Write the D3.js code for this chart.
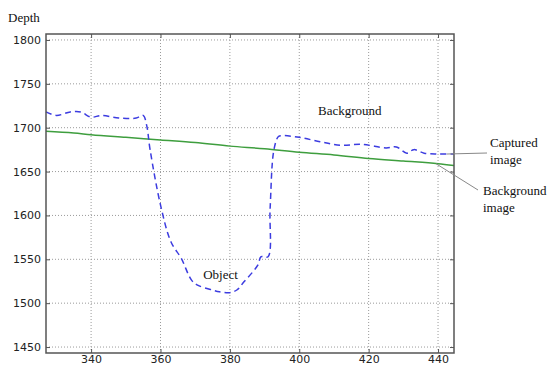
<!DOCTYPE html>
<html>
<head>
<meta charset="utf-8">
<script src="https://cdn.jsdelivr.net/npm/d3@7"></script>
<style>
  body { margin: 0; background: #fff; }
  svg { display: block; }
</style>
</head>
<body>
<div id="chart"></div>
<script>
// values
const capturedX = [327, 330, 334, 337, 340, 343, 348, 353, 355, 356, 357, 360, 363, 366, 369, 371, 375, 377, 380, 382, 384, 388, 389, 391, 391.6, 392.7, 394, 395, 400, 406, 412, 418, 425, 428, 431, 433, 436, 440, 444.6];
const capturedY = [1718, 1714, 1718, 1718, 1712, 1714, 1711, 1711, 1714, 1703, 1675, 1612, 1570, 1551, 1526, 1520, 1515, 1513, 1512, 1515, 1524, 1543, 1553, 1553, 1608, 1675, 1690, 1691, 1689, 1684, 1680, 1681, 1677, 1678, 1671, 1675, 1671, 1670, 1670];
const backgroundX = [327, 335, 340, 350, 360, 370, 380, 390, 400, 410, 420, 430, 440, 444.6];
const backgroundY = [1696, 1694, 1692, 1689, 1686, 1683, 1679, 1676, 1672, 1669, 1665, 1662, 1659, 1657];
const xTicks = [340, 360, 380, 400, 420, 440];
const yTicks = [1450, 1500, 1550, 1600, 1650, 1700, 1750, 1800];

const width = 548, height = 367;
const margin = { top: 34, right: 94, bottom: 14, left: 46 };
const plotW = width - margin.left - margin.right;
const plotH = height - margin.top - margin.bottom;

const svg = d3.select('#chart').append('svg')
  .attr('width', width)
  .attr('height', height);

const x = d3.scaleLinear().domain([327, 444.6]).range([0, plotW]);
const y = d3.scaleLinear().domain([1443.2, 1806.8]).range([plotH, 0]);

const g = svg.append('g').attr('transform', `translate(${margin.left},${margin.top})`);

// grid
g.append('g').selectAll('line').data(yTicks).join('line')
  .attr('x1', 0).attr('x2', plotW)
  .attr('y1', d => y(d)).attr('y2', d => y(d))
  .attr('stroke', '#9a9a9a').attr('stroke-width', 1)
  .attr('stroke-dasharray', '1,2');
g.append('g').selectAll('line').data(xTicks).join('line')
  .attr('x1', d => x(d)).attr('x2', d => x(d))
  .attr('y1', 0).attr('y2', plotH)
  .attr('stroke', '#9a9a9a').attr('stroke-width', 1)
  .attr('stroke-dasharray', '1,2');

const pts = (xs, ys) => xs.map((v, i) => [v, ys[i]]);
const line = d3.line().x(d => x(d[0])).y(d => y(d[1])).curve(d3.curveMonotoneX);

g.append('path')
  .datum(pts(backgroundX, backgroundY))
  .attr('fill', 'none')
  .attr('stroke', '#3e9e3e')
  .attr('stroke-width', 1.5)
  .attr('d', line);

g.append('path')
  .datum(pts(capturedX, capturedY))
  .attr('fill', 'none')
  .attr('stroke', '#3c3ce0')
  .attr('stroke-width', 1.5)
  .attr('stroke-dasharray', '6,4')
  .attr('d', d3.line().x(d => x(d[0])).y(d => y(d[1])).curve(d3.curveCatmullRom.alpha(0.5)));

// axes with inward ticks
const tickLen = 4;
g.append('g')
  .attr('transform', `translate(0,${plotH})`)
  .call(d3.axisBottom(x).tickValues(xTicks).tickSize(-tickLen).tickPadding(2).tickFormat(d3.format('d')));
g.append('g')
  .call(d3.axisLeft(y).tickValues(yTicks).tickSize(-tickLen).tickPadding(5).tickFormat(d3.format('d')));
g.append('g')
  .call(d3.axisTop(x).tickValues(xTicks).tickSize(-tickLen).tickFormat(''));
g.append('g')
  .attr('transform', `translate(${plotW},0)`)
  .call(d3.axisRight(y).tickValues(yTicks).tickSize(-tickLen).tickFormat(''));

g.selectAll('.domain').remove();
g.selectAll('.tick line').attr('stroke', '#555');
g.selectAll('.tick text')
  .attr('fill', '#222')
  .style('font-family', '"DejaVu Sans", sans-serif')
  .style('font-size', '11px');

g.append('rect')
  .attr('width', plotW).attr('height', plotH)
  .attr('fill', 'none')
  .attr('stroke', '#555')
  .attr('stroke-width', 1.5);

// labels and annotations
const serif = '"Liberation Serif", "Times New Roman", serif';
svg.append('text').attr('x', 8).attr('y', 22).text('Depth')
  .style('font-family', serif).style('font-size', '13px').attr('fill', '#111');

const ann = g.append('g')
  .style('font-family', serif).style('font-size', '13px').attr('fill', '#111');
ann.append('text').attr('x', x(405.4)).attr('y', y(1714)).text('Background');
ann.append('text').attr('x', x(372.3)).attr('y', y(1528)).text('Object');

const outer = svg.append('g')
  .style('font-family', serif).style('font-size', '13px').attr('fill', '#111');
outer.append('text').attr('x', 490).attr('y', 147).text('Captured');
outer.append('text').attr('x', 490).attr('y', 164).text('image');
outer.append('text').attr('x', 483).attr('y', 195).text('Background');
outer.append('text').attr('x', 483).attr('y', 212).text('image');

// leader lines from the curves to the outside labels
svg.append('line')
  .attr('x1', margin.left + x(442.5)).attr('y1', margin.top + y(1670))
  .attr('x2', 487).attr('y2', 153)
  .attr('stroke', '#888').attr('stroke-width', 1);
svg.append('line')
  .attr('x1', margin.left + x(439.4)).attr('y1', margin.top + y(1659))
  .attr('x2', 478).attr('y2', 190)
  .attr('stroke', '#888').attr('stroke-width', 1);
</script>
</body>
</html>
